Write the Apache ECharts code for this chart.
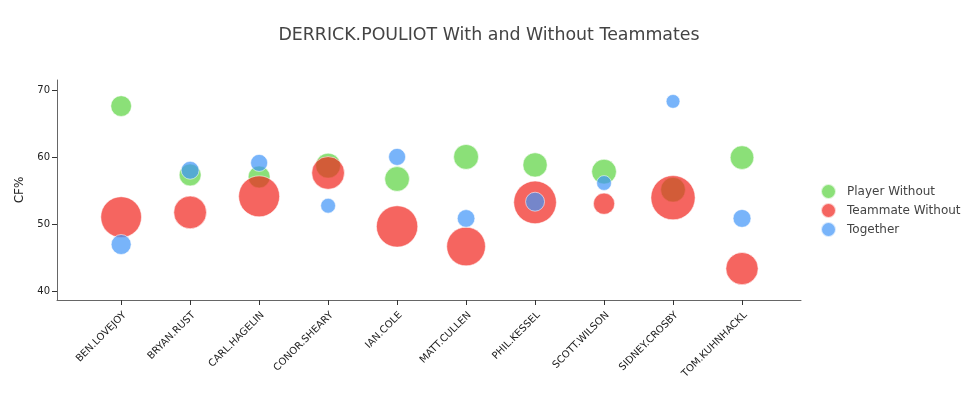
<!DOCTYPE html>
<html>
<head>
<meta charset="utf-8">
<script src="https://cdn.jsdelivr.net/npm/echarts@6/dist/echarts.min.js"></script>
<style>html,body{margin:0;padding:0;background:#fff;}#c{width:974px;height:394px;}</style>
</head>
<body>
<div id="c"></div>
<script>
var categories = ['BEN.LOVEJOY','BRYAN.RUST','CARL.HAGELIN','CONOR.SHEARY','IAN.COLE','MATT.CULLEN','PHIL.KESSEL','SCOTT.WILSON','SIDNEY.CROSBY','TOM.KUHNHACKL'];
var playerWithoutCF   = [67.7, 57.4, 57.1, 58.8, 56.8, 60.1, 58.9, 57.9, 55.2, 60.0];
var playerWithoutTOI  = [43, 48, 48, 62, 61, 62, 59, 61, 61, 56];
var teammateWithoutCF = [51.1, 51.8, 54.2, 57.7, 49.7, 46.7, 53.3, 53.1, 54.0, 43.4];
var teammateWithoutTOI= [166, 107, 168, 107, 171, 150, 182, 45, 196, 104];
var togetherCF        = [47.0, 58.1, 59.2, 52.8, 60.1, 50.9, 53.4, 56.2, 68.4, 50.9];
var togetherTOI       = [40, 32, 29, 22, 29, 31, 36, 22, 19, 32];
var yTicks = [40, 50, 60, 70];
var seriesNames = ['Player Without', 'Teammate Without', 'Together'];

function pts(cf, toi) {
  return cf.map(function (v, i) { return [i, v, toi[i]]; });
}
var font = 'DejaVu Sans, Verdana, sans-serif';
var colors = ['rgb(90,211,62)', 'rgb(241,36,28)', 'rgb(62,148,248)'];
function mk(name, data, color) {
  return {
    name: name, type: 'scatter', data: data,
    symbolSize: function (v) { return Math.sqrt(v[2] * 10); },
    itemStyle: { color: color, opacity: 0.7, borderColor: '#fff', borderWidth: 0.8 },
    emphasis: { disabled: true }
  };
}
var xTickVals = categories.map(function (c, i) { return i; });
var chart = echarts.init(document.getElementById('c'), null, { renderer: 'canvas' });
chart.setOption({
  animation: false,
  backgroundColor: '#fff',
  title: {
    text: 'DERRICK.POULIOT With and Without Teammates',
    left: 484, top: 22, textAlign: 'center',
    textStyle: { fontFamily: font, fontSize: 17.4, fontWeight: 'normal', color: '#444' }
  },
  legend: {
    orient: 'vertical', left: 815, top: 178, itemGap: 2, itemWidth: 15, itemHeight: 15,
    icon: 'circle',
    data: seriesNames,
    textStyle: { fontFamily: font, fontSize: 12, color: '#444', padding: [0, 0, 0, 6] },
    itemStyle: { opacity: 0.7 }
  },
  grid: { left: 57, right: 173, top: 80, bottom: 94, containLabel: false },
  xAxis: {
    type: 'value', min: -0.93, max: 9.855,
    splitLine: { show: false },
    axisLine: { onZero: false, lineStyle: { color: '#666' } },
    axisTick: { show: true, length: 5, customValues: xTickVals, lineStyle: { color: '#333' } },
    axisLabel: {
      customValues: xTickVals,
      rotate: 45, align: 'right', verticalAlign: 'top',
      fontFamily: font, fontSize: 10, color: '#222', margin: 10,
      formatter: function (v) { return categories[Math.round(v)] || ''; }
    }
  },
  yAxis: {
    type: 'value', min: 38.7, max: 71.6,
    name: 'CF%', nameLocation: 'middle', nameGap: 31, nameRotate: 90,
    nameTextStyle: { fontFamily: font, fontSize: 12, color: '#222' },
    splitLine: { show: false },
    axisLine: { show: true, onZero: false, lineStyle: { color: '#666' } },
    axisTick: { show: true, length: 5, customValues: yTicks, lineStyle: { color: '#333' } },
    axisLabel: { customValues: yTicks, fontFamily: font, fontSize: 10, color: '#222', margin: 7 }
  },
  series: [
    mk(seriesNames[0], pts(playerWithoutCF, playerWithoutTOI), colors[0]),
    mk(seriesNames[1], pts(teammateWithoutCF, teammateWithoutTOI), colors[1]),
    mk(seriesNames[2], pts(togetherCF, togetherTOI), colors[2])
  ]
});
</script>
</body>
</html>
